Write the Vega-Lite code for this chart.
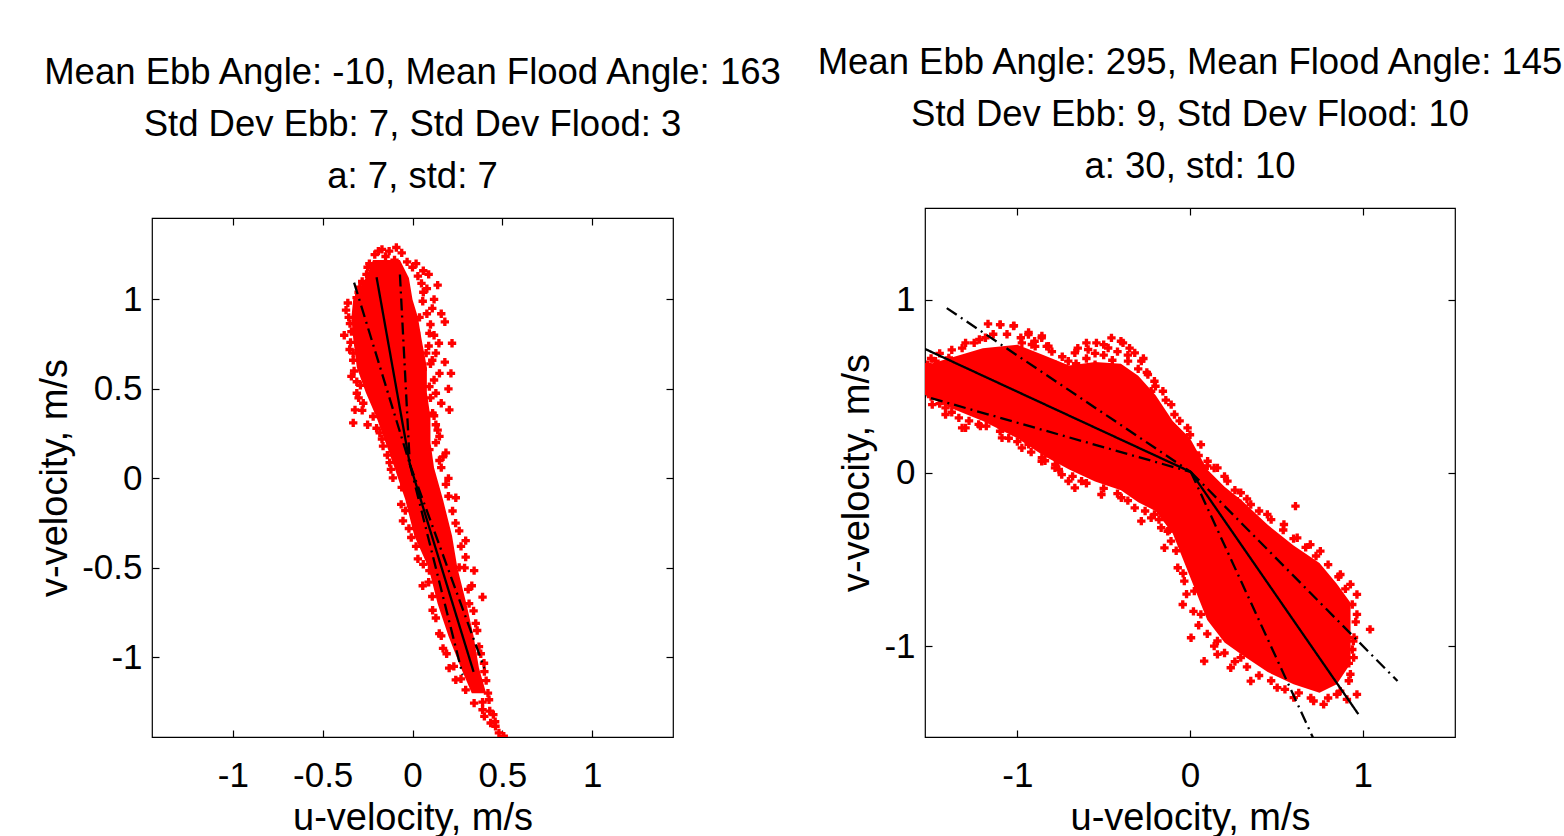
{
  "$schema": "https://vega.github.io/schema/vega-lite/v6.json",
  "padding": {"left": 36, "top": 44, "right": 0, "bottom": 0},
  "background": "white",
  "config": {
    "font": "Liberation Sans",
    "view": {"stroke": "black", "strokeWidth": 1.2},
    "axis": {"grid": false, "domain": false, "tickColor": "black", "tickSize": -7, "tickWidth": 1.2, "labelColor": "black", "labelFontSize": 35, "labelFont": "Liberation Sans", "titleFont": "Liberation Sans", "titleFontSize": 38, "titleFontWeight": "normal", "titleColor": "black", "labelExpr": "'' + datum.value"},
    "axisBottom": {"labelPadding": 28, "titlePadding": 6},
    "axisLeft": {"labelPadding": 17, "titlePadding": 7},
    "title": {"font": "Liberation Sans", "fontSize": 36.5, "fontWeight": "normal", "color": "black", "lineHeight": 52, "anchor": "middle", "frame": "group", "offset": 22}
  },
  "datasets": {
    "leftCore": [
      {"v": -1.2, "u1": 0.33, "u2": 0.41}, {"v": -1.06, "u1": 0.27, "u2": 0.37}, {"v": -0.88, "u1": 0.2, "u2": 0.34}, {"v": -0.7, "u1": 0.14, "u2": 0.3}, {"v": -0.5, "u1": 0.09, "u2": 0.25}, {"v": -0.32, "u1": 0.01, "u2": 0.22}, {"v": -0.12, "u1": -0.04, "u2": 0.17}, {"v": 0.06, "u1": -0.1, "u2": 0.12}, {"v": 0.2, "u1": -0.15, "u2": 0.1}, {"v": 0.34, "u1": -0.2, "u2": 0.1}, {"v": 0.48, "u1": -0.26, "u2": 0.08}, {"v": 0.62, "u1": -0.31, "u2": 0.08}, {"v": 0.78, "u1": -0.33, "u2": 0.05}, {"v": 0.9, "u1": -0.34, "u2": 0.03}, {"v": 1.0, "u1": -0.33, "u2": 0.0}, {"v": 1.12, "u1": -0.26, "u2": -0.02}, {"v": 1.22, "u1": -0.22, "u2": -0.07}
    ],
    "leftPts": [
      {"u": -0.21, "v": 1.25}, {"u": -0.17, "v": 1.28}, {"u": -0.13, "v": 1.27}, {"u": -0.09, "v": 1.29}, {"u": -0.06, "v": 1.26}, {"u": -0.15, "v": 1.24}, {"u": -0.24, "v": 1.2}, {"u": -0.1, "v": 1.22}, {"u": -0.03, "v": 1.21}, {"u": 0.0, "v": 1.18}, {"u": 0.02, "v": 1.2}, {"u": 0.06, "v": 1.16}, {"u": 0.09, "v": 1.14},
      {"u": 0.11, "v": 0.95}, {"u": 0.18, "v": 0.875}, {"u": 0.22, "v": 0.755}, {"u": 0.147, "v": 0.755}, {"u": 0.094, "v": 0.81}, {"u": 0.076, "v": 0.7}, {"u": 0.13, "v": 0.7}, {"u": 0.214, "v": 0.587}, {"u": 0.15, "v": 0.587}, {"u": 0.094, "v": 0.513}, {"u": 0.13, "v": 0.476}, {"u": 0.205, "v": 0.383}, {"u": 0.112, "v": 0.365}, {"u": 0.15, "v": 0.235}, {"u": 0.094, "v": 0.161}, {"u": 0.186, "v": 0.143}, {"u": 0.039, "v": 0.9}, {"u": 0.057, "v": 0.99}, {"u": 0.02, "v": 0.81}, {"u": 0.057, "v": 0.61}, {"u": 0.039, "v": 0.31}, {"u": 0.08, "v": 1.06}, {"u": 0.05, "v": 1.09}, {"u": 0.12, "v": 1.0}, {"u": 0.1, "v": 0.64}, {"u": 0.16, "v": 0.42}, {"u": 0.13, "v": 0.3},
      {"u": -0.37, "v": 0.94}, {"u": -0.348, "v": 0.865}, {"u": -0.38, "v": 0.8}, {"u": -0.33, "v": 0.66}, {"u": -0.34, "v": 0.57}, {"u": -0.31, "v": 0.476}, {"u": -0.32, "v": 0.383}, {"u": -0.33, "v": 0.31}, {"u": -0.274, "v": 0.42}, {"u": -0.219, "v": 0.346}, {"u": -0.182, "v": 0.254}, {"u": -0.164, "v": 0.18}, {"u": -0.127, "v": 0.088}, {"u": -0.293, "v": 1.068}, {"u": -0.256, "v": 1.14}, {"u": -0.311, "v": 1.01}, {"u": -0.35, "v": 0.72}, {"u": -0.36, "v": 0.98}, {"u": -0.29, "v": 0.52},
      {"u": -0.109, "v": 0.003}, {"u": -0.063, "v": -0.145}, {"u": -0.053, "v": -0.237}, {"u": -0.007, "v": -0.33}, {"u": 0.03, "v": -0.45}, {"u": 0.057, "v": -0.6}, {"u": 0.094, "v": -0.515}, {"u": 0.112, "v": -0.737}, {"u": 0.149, "v": -0.867}, {"u": 0.204, "v": -1.06}, {"u": 0.241, "v": -1.126}, {"u": 0.296, "v": -1.182}, {"u": 0.343, "v": -1.256}, {"u": 0.39, "v": -1.293}, {"u": 0.435, "v": -1.367}, {"u": 0.481, "v": -1.422}, {"u": 0.508, "v": -1.44}, {"u": 0.462, "v": -1.385}, {"u": 0.426, "v": -1.237}, {"u": 0.37, "v": -1.163}, {"u": 0.17, "v": -0.95}, {"u": 0.08, "v": -0.4}, {"u": 0.45, "v": -1.32},
      {"u": 0.186, "v": -0.033}, {"u": 0.223, "v": -0.182}, {"u": 0.26, "v": -0.293}, {"u": 0.296, "v": -0.348}, {"u": 0.343, "v": -0.515}, {"u": 0.39, "v": -0.663}, {"u": 0.315, "v": -0.7}, {"u": 0.352, "v": -0.81}, {"u": 0.37, "v": -0.94}, {"u": 0.398, "v": -1.033}, {"u": 0.296, "v": -0.44}, {"u": 0.241, "v": -0.108}, {"u": 0.26, "v": -0.497}, {"u": 0.16, "v": 0.06}, {"u": 0.41, "v": -1.13}, {"u": 0.33, "v": -0.6},
      {"u": -0.355, "v": 0.9}, {"u": -0.34, "v": 0.82}, {"u": -0.345, "v": 0.76}, {"u": -0.33, "v": 0.7}, {"u": -0.325, "v": 0.6}, {"u": -0.31, "v": 0.54}, {"u": -0.3, "v": 0.45}, {"u": -0.28, "v": 0.38}, {"u": -0.25, "v": 0.3}, {"u": -0.2, "v": 0.28}, {"u": -0.17, "v": 0.22}, {"u": -0.14, "v": 0.13}, {"u": -0.12, "v": 0.05}, {"u": -0.3, "v": 1.04}, {"u": -0.28, "v": 1.1}, {"u": -0.25, "v": 1.18}, {"u": -0.19, "v": 1.27},
      {"u": 0.03, "v": 1.13}, {"u": 0.06, "v": 1.04}, {"u": 0.08, "v": 0.92}, {"u": 0.1, "v": 0.86}, {"u": 0.12, "v": 0.8}, {"u": 0.09, "v": 0.74}, {"u": 0.11, "v": 0.66}, {"u": 0.12, "v": 0.55}, {"u": 0.1, "v": 0.45}, {"u": 0.12, "v": 0.35}, {"u": 0.14, "v": 0.27}, {"u": 0.13, "v": 0.2}, {"u": 0.15, "v": 0.1}, {"u": 0.17, "v": 0.12}, {"u": 0.2, "v": 0.5}, {"u": 0.18, "v": 0.65}, {"u": 0.16, "v": 0.92}, {"u": 0.14, "v": 1.08},
      {"u": -0.06, "v": -0.05}, {"u": -0.04, "v": -0.18}, {"u": -0.02, "v": -0.28}, {"u": 0.02, "v": -0.38}, {"u": 0.06, "v": -0.48}, {"u": 0.09, "v": -0.58}, {"u": 0.11, "v": -0.66}, {"u": 0.13, "v": -0.78}, {"u": 0.16, "v": -0.88}, {"u": 0.19, "v": -0.98}, {"u": 0.23, "v": -1.05}, {"u": 0.27, "v": -1.12}, {"u": 0.2, "v": 0.0}, {"u": 0.2, "v": -0.1}, {"u": 0.24, "v": -0.25}, {"u": 0.27, "v": -0.38}, {"u": 0.29, "v": -0.5}, {"u": 0.31, "v": -0.62}, {"u": 0.34, "v": -0.74}, {"u": 0.36, "v": -0.85}, {"u": 0.38, "v": -0.98}, {"u": 0.4, "v": -1.08}, {"u": 0.42, "v": -1.2}, {"u": 0.39, "v": -1.25}, {"u": 0.4, "v": -1.33}, {"u": 0.43, "v": -1.3}, {"u": 0.46, "v": -1.36}
    ],
    "leftLines": [
      {"id": "s", "style": "solid", "o": 0, "u": -0.2, "v": 1.124},
      {"id": "s", "style": "solid", "o": 1, "u": -0.015, "v": 0.08},
      {"id": "s", "style": "solid", "o": 2, "u": 0.34, "v": -1.081},
      {"id": "a", "style": "dashdot", "o": 0, "u": -0.325, "v": 1.094},
      {"id": "a", "style": "dashdot", "o": 1, "u": -0.015, "v": 0.08},
      {"id": "b", "style": "dashdot", "o": 0, "u": -0.07, "v": 1.139},
      {"id": "b", "style": "dashdot", "o": 1, "u": -0.015, "v": 0.08},
      {"id": "c", "style": "dashdot", "o": 0, "u": -0.015, "v": 0.08},
      {"id": "c", "style": "dashdot", "o": 1, "u": 0.4, "v": -1.061},
      {"id": "d", "style": "dashdot", "o": 0, "u": -0.015, "v": 0.08},
      {"id": "d", "style": "dashdot", "o": 1, "u": 0.279, "v": -1.098}
    ],
    "rightCore": [
      {"u": -1.535, "v1": 0.45, "v2": 0.62}, {"u": -1.4, "v1": 0.38, "v2": 0.66}, {"u": -1.2, "v1": 0.3, "v2": 0.72}, {"u": -1.0, "v1": 0.2, "v2": 0.74}, {"u": -0.85, "v1": 0.1, "v2": 0.68}, {"u": -0.7, "v1": 0.02, "v2": 0.62}, {"u": -0.55, "v1": -0.05, "v2": 0.64}, {"u": -0.4, "v1": -0.1, "v2": 0.63}, {"u": -0.3, "v1": -0.17, "v2": 0.56}, {"u": -0.2, "v1": -0.22, "v2": 0.45}, {"u": -0.1, "v1": -0.35, "v2": 0.3}, {"u": 0.0, "v1": -0.6, "v2": 0.2}, {"u": 0.1, "v1": -0.85, "v2": 0.02}, {"u": 0.2, "v1": -0.98, "v2": -0.08}, {"u": 0.3, "v1": -1.05, "v2": -0.16}, {"u": 0.45, "v1": -1.15, "v2": -0.3}, {"u": 0.6, "v1": -1.22, "v2": -0.42}, {"u": 0.75, "v1": -1.27, "v2": -0.52}, {"u": 0.85, "v1": -1.22, "v2": -0.64}, {"u": 0.93, "v1": -1.1, "v2": -0.75}
    ],
    "rightPts": [
      {"u": -1.17, "v": 0.86}, {"u": -1.1, "v": 0.856}, {"u": -1.02, "v": 0.85}, {"u": -0.935, "v": 0.81}, {"u": -0.858, "v": 0.79}, {"u": -0.83, "v": 0.73}, {"u": -0.897, "v": 0.73}, {"u": -0.974, "v": 0.75}, {"u": -1.185, "v": 0.78}, {"u": -1.25, "v": 0.75}, {"u": -1.32, "v": 0.72}, {"u": -1.397, "v": 0.664}, {"u": -1.474, "v": 0.645}, {"u": -1.52, "v": 0.625},
      {"u": -1.493, "v": 0.394}, {"u": -1.416, "v": 0.375}, {"u": -1.339, "v": 0.317}, {"u": -1.3, "v": 0.26}, {"u": -1.224, "v": 0.28}, {"u": -1.108, "v": 0.28}, {"u": -1.05, "v": 0.2}, {"u": -0.935, "v": 0.164}, {"u": -0.858, "v": 0.087}, {"u": -0.78, "v": 0.048}, {"u": -0.704, "v": -0.048},
      {"u": -1.099, "v": 0.856}, {"u": -1.022, "v": 0.847}, {"u": -0.936, "v": 0.798}, {"u": -0.859, "v": 0.779}, {"u": -0.82, "v": 0.731}, {"u": -0.916, "v": 0.741}, {"u": -0.667, "v": 0.693}, {"u": -0.59, "v": 0.712}, {"u": -0.542, "v": 0.75}, {"u": -0.455, "v": 0.779}, {"u": -0.388, "v": 0.75}, {"u": -0.474, "v": 0.721}, {"u": -0.32, "v": 0.693}, {"u": -0.282, "v": 0.645}, {"u": -0.359, "v": 0.645}, {"u": -0.206, "v": 0.529}, {"u": -0.157, "v": 0.471}, {"u": -0.225, "v": 0.471}, {"u": -0.09, "v": 0.337}, {"u": -0.109, "v": 0.394}, {"u": -0.014, "v": 0.26}, {"u": 0.063, "v": 0.163}, {"u": 0.102, "v": 0.067}, {"u": 0.14, "v": 0.028}, {"u": -0.55, "v": 0.625}, {"u": -0.628, "v": 0.587}, {"u": -0.743, "v": 0.548}, {"u": -0.782, "v": 0.625}, {"u": -0.705, "v": 0.645}, {"u": -0.417, "v": 0.587}, {"u": -0.244, "v": 0.568}, {"u": -0.32, "v": 0.51},
      {"u": -1.416, "v": 0.337}, {"u": -1.32, "v": 0.26}, {"u": -1.214, "v": 0.27}, {"u": -1.089, "v": 0.202}, {"u": -0.974, "v": 0.144}, {"u": -0.859, "v": 0.067}, {"u": -0.743, "v": -0.01}, {"u": -0.628, "v": -0.048}, {"u": -0.513, "v": -0.125}, {"u": -0.398, "v": -0.144}, {"u": -0.32, "v": -0.202}, {"u": -0.282, "v": -0.279}, {"u": -0.206, "v": -0.24}, {"u": -0.167, "v": -0.317}, {"u": -0.129, "v": -0.221}, {"u": -0.782, "v": 0.029}, {"u": -0.667, "v": -0.087}, {"u": -0.436, "v": -0.048}, {"u": -0.551, "v": 0.029},
      {"u": -0.225, "v": -0.26}, {"u": -0.205, "v": -0.183}, {"u": -0.148, "v": -0.433}, {"u": -0.129, "v": -0.337}, {"u": -0.042, "v": -0.76}, {"u": 0.006, "v": -0.952}, {"u": 0.082, "v": -1.087}, {"u": 0.159, "v": -0.971}, {"u": 0.236, "v": -1.125}, {"u": 0.352, "v": -1.202}, {"u": 0.505, "v": -1.24}, {"u": 0.601, "v": -1.298}, {"u": 0.716, "v": -1.317}, {"u": 0.774, "v": -1.337}, {"u": 0.909, "v": -1.308}, {"u": 0.851, "v": -1.279}, {"u": 0.967, "v": -1.279}, {"u": 0.063, "v": -0.817}, {"u": 0.159, "v": -1.048}, {"u": 0.294, "v": -1.067}, {"u": -0.033, "v": -0.625}, {"u": -0.071, "v": -0.548}, {"u": 0.025, "v": -0.683}, {"u": -0.11, "v": -0.394},
      {"u": 0.159, "v": 0.029}, {"u": 0.217, "v": -0.048}, {"u": 0.294, "v": -0.115}, {"u": 0.352, "v": -0.183}, {"u": 0.611, "v": -0.192}, {"u": 0.544, "v": -0.298}, {"u": 0.621, "v": -0.375}, {"u": 0.755, "v": -0.452}, {"u": 0.697, "v": -0.414}, {"u": 0.871, "v": -0.587}, {"u": 0.967, "v": -0.702}, {"u": 0.929, "v": -0.644}, {"u": 1.043, "v": -0.904}, {"u": 0.946, "v": -0.971}, {"u": 0.967, "v": -0.817}, {"u": 0.929, "v": -1.163}, {"u": 0.948, "v": -1.067}, {"u": 0.448, "v": -0.24}, {"u": 0.409, "v": -0.317}, {"u": 0.275, "v": -0.163},
      {"u": -1.5, "v": 0.66}, {"u": -1.45, "v": 0.69}, {"u": -1.38, "v": 0.71}, {"u": -1.3, "v": 0.75}, {"u": -1.22, "v": 0.77}, {"u": -1.14, "v": 0.8}, {"u": -1.06, "v": 0.8}, {"u": -0.98, "v": 0.78}, {"u": -0.9, "v": 0.76}, {"u": -0.8, "v": 0.7}, {"u": -0.74, "v": 0.67}, {"u": -0.66, "v": 0.63}, {"u": -0.6, "v": 0.66}, {"u": -0.5, "v": 0.68}, {"u": -0.42, "v": 0.7}, {"u": -0.36, "v": 0.68}, {"u": -0.3, "v": 0.6}, {"u": -0.25, "v": 0.58}, {"u": -0.2, "v": 0.5}, {"u": -0.14, "v": 0.42}, {"u": -0.06, "v": 0.3}, {"u": 0.0, "v": 0.22}, {"u": 0.05, "v": 0.1}, {"u": 0.1, "v": 0.04},
      {"u": -0.5, "v": 0.74}, {"u": -0.6, "v": 0.75}, {"u": -0.45, "v": 0.65}, {"u": -0.55, "v": 0.69}, {"u": -0.65, "v": 0.72}, {"u": -0.4, "v": 0.76}, {"u": -0.35, "v": 0.72}, {"u": -0.27, "v": 0.66},
      {"u": -1.5, "v": 0.44}, {"u": -1.45, "v": 0.4}, {"u": -1.38, "v": 0.35}, {"u": -1.28, "v": 0.3}, {"u": -1.18, "v": 0.27}, {"u": -1.1, "v": 0.24}, {"u": -1.0, "v": 0.18}, {"u": -0.92, "v": 0.12}, {"u": -0.84, "v": 0.07}, {"u": -0.76, "v": 0.02}, {"u": -0.68, "v": -0.02}, {"u": -0.6, "v": -0.06}, {"u": -0.5, "v": -0.09}, {"u": -0.42, "v": -0.12}, {"u": -0.36, "v": -0.16}, {"u": -0.26, "v": -0.22}, {"u": -0.18, "v": -0.27}, {"u": -0.12, "v": -0.33}, {"u": -0.08, "v": -0.45},
      {"u": -0.04, "v": -0.58}, {"u": -0.02, "v": -0.7}, {"u": 0.02, "v": -0.8}, {"u": 0.05, "v": -0.88}, {"u": 0.1, "v": -0.93}, {"u": 0.14, "v": -1.0}, {"u": 0.2, "v": -1.04}, {"u": 0.26, "v": -1.09}, {"u": 0.33, "v": -1.12}, {"u": 0.4, "v": -1.17}, {"u": 0.47, "v": -1.2}, {"u": 0.55, "v": -1.25}, {"u": 0.63, "v": -1.27}, {"u": 0.7, "v": -1.3}, {"u": 0.8, "v": -1.3}, {"u": 0.87, "v": -1.26}, {"u": 0.92, "v": -1.2},
      {"u": 0.2, "v": -0.02}, {"u": 0.26, "v": -0.1}, {"u": 0.33, "v": -0.15}, {"u": 0.4, "v": -0.22}, {"u": 0.47, "v": -0.27}, {"u": 0.54, "v": -0.33}, {"u": 0.6, "v": -0.38}, {"u": 0.67, "v": -0.43}, {"u": 0.73, "v": -0.48}, {"u": 0.8, "v": -0.53}, {"u": 0.86, "v": -0.6}, {"u": 0.9, "v": -0.67}, {"u": 0.94, "v": -0.76}, {"u": 0.96, "v": -0.86}, {"u": 0.95, "v": -0.95}, {"u": 0.94, "v": -1.02}, {"u": 0.92, "v": -1.1}
    ],
    "rightLines": [
      {"id": "s", "style": "solid", "o": 0, "u": -1.541, "v": 0.718},
      {"id": "s", "style": "solid", "o": 1, "u": 0.005, "v": 0.005},
      {"id": "s", "style": "solid", "o": 2, "u": 0.975, "v": -1.393},
      {"id": "a", "style": "dashdot", "o": 0, "u": -1.409, "v": 0.951},
      {"id": "a", "style": "dashdot", "o": 1, "u": 0.005, "v": 0.005},
      {"id": "b", "style": "dashdot", "o": 0, "u": -1.634, "v": 0.469},
      {"id": "b", "style": "dashdot", "o": 1, "u": 0.005, "v": 0.005},
      {"id": "c", "style": "dashdot", "o": 0, "u": 0.005, "v": 0.005},
      {"id": "c", "style": "dashdot", "o": 1, "u": 1.202, "v": -1.202},
      {"id": "d", "style": "dashdot", "o": 0, "u": 0.005, "v": 0.005},
      {"id": "d", "style": "dashdot", "o": 1, "u": 0.718, "v": -1.541}
    ]
  },
  "bounds": "flush",
  "spacing": 773,
  "hconcat": [
    {
      "bounds": "flush",
      "spacing": 9,
      "vconcat": [
        {"width": 521, "height": 1, "view": {"stroke": null}, "data": {"values": [{"k": 0}]}, "mark": {"type": "point", "opacity": 0}, "encoding": {}},
        {
          "width": 521,
          "height": 519,
          "title": {"text": ["Mean Ebb Angle: -10, Mean Flood Angle: 163", "Std Dev Ebb: 7, Std Dev Flood: 3", "a: 7, std: 7"]},
          "layer": [
            {
              "data": {"name": "leftCore"},
              "mark": {"type": "area", "orient": "horizontal", "color": "#ff0000", "clip": true},
              "encoding": {
                "y": {"field": "v", "type": "quantitative", "scale": {"domain": [-1.445, 1.455], "nice": false, "zero": false}, "axis": {"orient": "left", "values": [-1, -0.5, 0, 0.5, 1], "title": "v-velocity, m/s"}},
                "x": {"field": "u1", "type": "quantitative", "scale": {"domain": [-1.45, 1.45], "nice": false, "zero": false}, "axis": {"orient": "bottom", "values": [-1, -0.5, 0, 0.5, 1], "title": "u-velocity, m/s"}},
                "x2": {"field": "u2"}
              }
            },
            {
              "data": {"name": "leftPts"},
              "mark": {"type": "point", "shape": "cross", "filled": true, "color": "#ff0000", "opacity": 1, "size": 70, "clip": true},
              "encoding": {
                "x": {"field": "u", "type": "quantitative", "axis": null},
                "y": {"field": "v", "type": "quantitative", "axis": null}
              }
            },
            {
              "data": {"name": "leftLines"},
              "mark": {"type": "line", "color": "black", "strokeWidth": 2.3, "clip": true},
              "encoding": {
                "x": {"field": "u", "type": "quantitative", "axis": {"orient": "top", "values": [-1, -0.5, 0, 0.5, 1], "labels": false, "title": null}},
                "y": {"field": "v", "type": "quantitative", "axis": {"orient": "right", "values": [-1, -0.5, 0, 0.5, 1], "labels": false, "title": null}},
                "detail": {"field": "id"},
                "order": {"field": "o", "type": "quantitative"},
                "strokeDash": {"field": "style", "type": "nominal", "scale": {"domain": ["solid", "dashdot"], "range": [[1, 0], [12, 5, 2, 5]]}, "legend": null}
              }
            }
          ],
          "resolve": {"axis": {"x": "independent", "y": "independent"}}
        }
      ]
    },
    {
      "width": 530,
      "height": 529,
      "title": {"text": ["Mean Ebb Angle: 295, Mean Flood Angle: 145", "Std Dev Ebb: 9, Std Dev Flood: 10", "a: 30, std: 10"]},
      "layer": [
        {
          "data": {"name": "rightCore"},
          "mark": {"type": "area", "orient": "vertical", "color": "#ff0000", "clip": true},
          "encoding": {
            "x": {"field": "u", "type": "quantitative", "scale": {"domain": [-1.535, 1.535], "nice": false, "zero": false}, "axis": {"orient": "bottom", "values": [-1, 0, 1], "title": "u-velocity, m/s"}},
            "y": {"field": "v1", "type": "quantitative", "scale": {"domain": [-1.525, 1.529], "nice": false, "zero": false}, "axis": {"orient": "left", "values": [-1, 0, 1], "title": "v-velocity, m/s"}},
            "y2": {"field": "v2"}
          }
        },
        {
          "data": {"name": "rightPts"},
          "mark": {"type": "point", "shape": "cross", "filled": true, "color": "#ff0000", "opacity": 1, "size": 70, "clip": true},
          "encoding": {
            "x": {"field": "u", "type": "quantitative", "axis": null},
            "y": {"field": "v", "type": "quantitative", "axis": null}
          }
        },
        {
          "data": {"name": "rightLines"},
          "mark": {"type": "line", "color": "black", "strokeWidth": 2.3, "clip": true},
          "encoding": {
            "x": {"field": "u", "type": "quantitative", "axis": {"orient": "top", "values": [-1, 0, 1], "labels": false, "title": null}},
            "y": {"field": "v", "type": "quantitative", "axis": {"orient": "right", "values": [-1, 0, 1], "labels": false, "title": null}},
            "detail": {"field": "id"},
            "order": {"field": "o", "type": "quantitative"},
            "strokeDash": {"field": "style", "type": "nominal", "scale": {"domain": ["solid", "dashdot"], "range": [[1, 0], [12, 5, 2, 5]]}, "legend": null}
          }
        }
      ],
      "resolve": {"axis": {"x": "independent", "y": "independent"}}
    }
  ]
}
